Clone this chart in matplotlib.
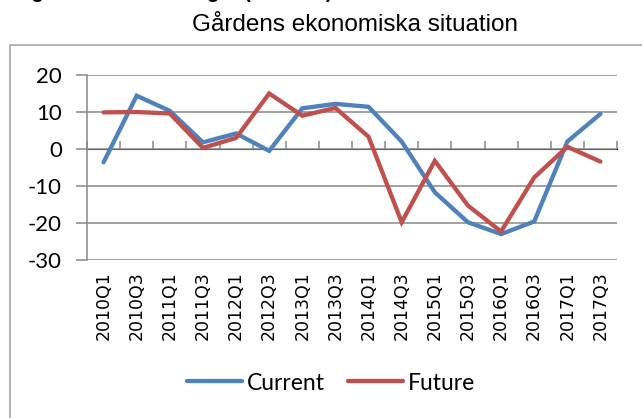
import matplotlib
matplotlib.use("Agg")
import matplotlib.pyplot as plt
import numpy as np
from matplotlib.patches import Rectangle

categories = ["2010Q1", "2010Q3", "2011Q1", "2011Q3", "2012Q1", "2012Q3",
              "2013Q1", "2013Q3", "2014Q1", "2014Q3", "2015Q1", "2015Q3",
              "2016Q1", "2016Q3", "2017Q1", "2017Q3"]
current = [-3.6, 14.4, 10.3, 1.8, 4.2, -0.5, 11.0, 12.2, 11.4, 2.0,
           -11.7, -19.8, -23.0, -19.6, 2.0, 9.5]
future = [9.9, 10.0, 9.6, 0.3, 3.0, 15.0, 9.0, 11.1, 3.3, -19.8,
          -3.2, -15.3, -22.3, -7.7, 0.6, -3.4]
yticks = [-30, -20, -10, 0, 10, 20]
title = "Gårdens ekonomiska situation"
header = "Diagram 4. Bedömningar (Procent)"

W, H = 642, 418
fig = plt.figure(figsize=(W / 100, H / 100), dpi=100)

num_font = ["Lato", "DejaVu Sans"]
grid_c = "#888888"

# outer chart border (extends past right/bottom edges)
fig.patches.append(Rectangle((10 / W, -0.05), 1.2, 1 - 45 / H + 0.05,
                             transform=fig.transFigure, fill=False,
                             edgecolor="#a6a6a6", linewidth=1.2))

# header text, mostly cut off at the top edge as in the reference
fig.text(0.0, 1 + 2 / H, header, ha="left", va="baseline", fontsize=14.5,
         fontweight="bold", family=["Liberation Sans", "DejaVu Sans"])

ax = fig.add_axes([87 / W, 1 - 260 / H, (617 - 87) / W, (260 - 75) / H])
x = np.arange(len(categories))
ax.plot(x, current, color="#4F81BD", lw=3.1, solid_capstyle="round",
        solid_joinstyle="miter", label="Current", zorder=3)
ax.plot(x, future, color="#C0504D", lw=3.1, solid_capstyle="round",
        solid_joinstyle="miter", label="Future", zorder=3)

ymin, ymax = yticks[0], yticks[-1]
ax.set_ylim(ymin, ymax)
ax.set_xlim(-0.5, len(categories) - 0.5)
ax.set_yticks(yticks)
ax.set_yticklabels([str(v) for v in yticks], family=num_font, fontsize=16)
ax.yaxis.grid(True, color=grid_c, linewidth=1.1)
ax.set_axisbelow(True)
ax.tick_params(axis="y", length=8, width=1.1, color=grid_c, pad=10)

for s in ["top", "right", "bottom"]:
    ax.spines[s].set_visible(False)
ax.spines["left"].set_color(grid_c)
ax.spines["left"].set_linewidth(1.1)

ax.set_xticks(x)
ax.set_xticklabels(categories, rotation=90, fontsize=12.5,
                   family=["DejaVu Sans"], va="top")
ax.tick_params(axis="x", length=0, pad=8)

# category axis crossing at zero
sec = ax.secondary_xaxis((0 - ymin) / (ymax - ymin))
sec.spines["bottom"].set_color(grid_c)
sec.spines["bottom"].set_linewidth(1.1)
sec.set_xticks(np.arange(len(categories) + 1) - 0.5)
sec.set_xticklabels([])
sec.tick_params(axis="x", length=6, width=1.1, color=grid_c, direction="out")

fig.text(355 / W, 1 - 25 / H, title, ha="center", va="center", fontsize=17.5,
         family=["Liberation Sans", "DejaVu Sans"])

leg = fig.legend(loc="center", bbox_to_anchor=(331 / W, 1 - 383 / H),
                 ncol=2, frameon=False, handlelength=2.4, handletextpad=0.2,
                 columnspacing=1.0, prop={"family": num_font, "size": 16.5})

fig.savefig("out.png", dpi=100)
